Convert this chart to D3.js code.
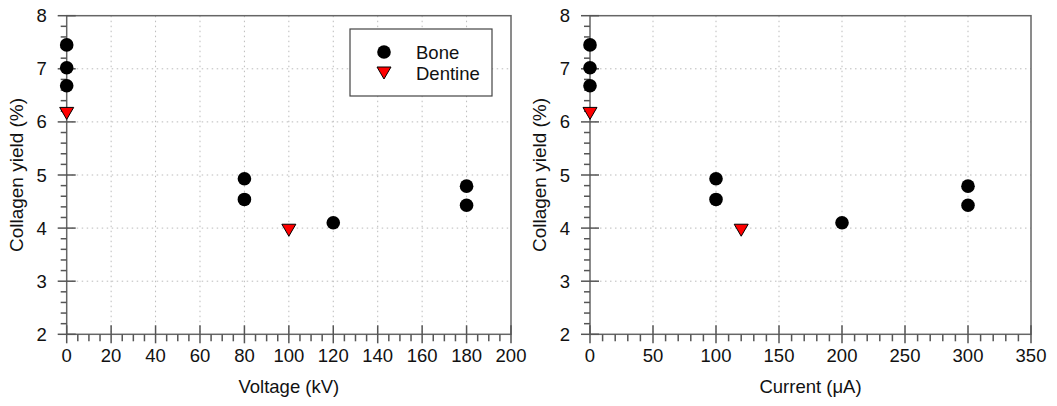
<!DOCTYPE html>
<html>
<head>
<meta charset="utf-8">
<script src="https://d3js.org/d3.v7.min.js"></script>
<style>
  body { margin: 0; padding: 0; background: #fff; }
  svg text { font-family: "Liberation Sans", Arial, sans-serif; fill: #111; }
</style>
</head>
<body>
<script>
// values
var yTicks = [2, 3, 4, 5, 6, 7, 8];
var voltTicks = [0, 20, 40, 60, 80, 100, 120, 140, 160, 180, 200];
var currTicks = [0, 50, 100, 150, 200, 250, 300, 350];

var boneVolt = [0, 0, 0, 80, 80, 120, 180, 180];
var boneCurr = [0, 0, 0, 100, 100, 200, 300, 300];
var boneYield = [7.45, 7.02, 6.68, 4.93, 4.54, 4.10, 4.79, 4.43];

var dentVolt = [0, 100];
var dentCurr = [0, 120];
var dentYield = [6.16, 3.96];

var W = 1057, H = 406;
var svg = d3.select("body").append("svg").attr("width", W).attr("height", H);

var triPath = "M-7,-6L7,-6L0,6Z";

function panel(left, right, xTicks, xMax, minorStep, boneX, dentX, xTitle, showLegend) {
    var top = 15.7, bottom = 334.3;
    var x = d3.scaleLinear().domain([0, xMax]).range([left, right]);
    var y = d3.scaleLinear().domain([2, 8]).range([bottom, top]);
    var g = svg.append("g");

    // grid
    g.selectAll(".gx").data(xTicks.slice(1, -1)).enter().append("line")
        .attr("x1", d => x(d)).attr("x2", d => x(d))
        .attr("y1", top).attr("y2", bottom)
        .attr("stroke", "#bbb").attr("stroke-dasharray", "1.5,3.5");
    g.selectAll(".gy").data(yTicks.slice(1, -1)).enter().append("line")
        .attr("y1", d => y(d)).attr("y2", d => y(d))
        .attr("x1", left).attr("x2", right)
        .attr("stroke", "#bbb").attr("stroke-dasharray", "1.5,3.5");

    // frame
    g.append("rect").attr("x", left).attr("y", top)
        .attr("width", right - left).attr("height", bottom - top)
        .attr("fill", "none").attr("stroke", "#666").attr("stroke-width", 1.5);

    var axisCol = "#555";
    // minor ticks
    var xMinor = d3.range(0, xMax + 0.001, minorStep).filter(v => xTicks.indexOf(v) < 0);
    g.selectAll(".mx").data(xMinor).enter().append("line")
        .attr("x1", d => x(d)).attr("x2", d => x(d))
        .attr("y1", bottom).attr("y2", bottom + 7)
        .attr("stroke", axisCol).attr("stroke-width", 1.5);
    var yMinor = d3.range(2, 8.001, 0.2).filter(v => Math.abs(v - Math.round(v)) > 0.01);
    g.selectAll(".my").data(yMinor).enter().append("line")
        .attr("y1", d => y(d)).attr("y2", d => y(d))
        .attr("x1", left - 6).attr("x2", left)
        .attr("stroke", axisCol).attr("stroke-width", 1.5);
    // major ticks crossing the axes
    g.selectAll(".tx").data(xTicks).enter().append("line")
        .attr("x1", d => x(d)).attr("x2", d => x(d))
        .attr("y1", bottom - 9).attr("y2", bottom + 9)
        .attr("stroke", axisCol).attr("stroke-width", 1.5);
    g.selectAll(".ty").data(yTicks).enter().append("line")
        .attr("y1", d => y(d)).attr("y2", d => y(d))
        .attr("x1", left - 9).attr("x2", left + 9)
        .attr("stroke", axisCol).attr("stroke-width", 1.5);

    // tick labels
    g.selectAll(".lx").data(xTicks).enter().append("text")
        .attr("x", d => x(d)).attr("y", bottom + 28)
        .attr("text-anchor", "middle").attr("font-size", 18.5)
        .text(d => d);
    g.selectAll(".ly").data(yTicks).enter().append("text")
        .attr("x", left - 20).attr("y", d => y(d) + 6.5)
        .attr("text-anchor", "end").attr("font-size", 18.5)
        .text(d => d);

    // titles
    g.append("text").attr("x", (left + right) / 2).attr("y", bottom + 59)
        .attr("text-anchor", "middle").attr("font-size", 18.5)
        .text(xTitle);
    g.append("text")
        .attr("transform", "translate(" + (left - 44) + "," + ((top + bottom) / 2) + ") rotate(-90)")
        .attr("text-anchor", "middle").attr("font-size", 19)
        .text("Collagen yield (%)");

    // points
    g.selectAll(".bone").data(boneYield).enter().append("circle")
        .attr("cx", (d, i) => x(boneX[i])).attr("cy", d => y(d))
        .attr("r", 6.8).attr("fill", "#000");
    g.selectAll(".dent").data(dentYield).enter().append("path")
        .attr("d", triPath)
        .attr("transform", (d, i) => "translate(" + x(dentX[i]) + "," + y(d) + ")")
        .attr("fill", "#f00").attr("stroke", "#000").attr("stroke-width", 1);

    if (showLegend) {
        var lg = g.append("g");
        lg.append("rect").attr("x", 350).attr("y", 29).attr("width", 142).attr("height", 67)
            .attr("fill", "#fff").attr("stroke", "#444").attr("stroke-width", 1.2);
        lg.append("circle").attr("cx", 384).attr("cy", 52).attr("r", 6.8).attr("fill", "#000");
        lg.append("path").attr("d", triPath).attr("transform", "translate(384,73)")
            .attr("fill", "#f00").attr("stroke", "#000");
        lg.append("text").attr("x", 416).attr("y", 58.5).attr("font-size", 18.5).text("Bone");
        lg.append("text").attr("x", 416).attr("y", 79.5).attr("font-size", 18.5).text("Dentine");
    }
}

panel(66.7, 511, voltTicks, 200, 5, boneVolt, dentVolt, "Voltage (kV)", true);
panel(590, 1031, currTicks, 350, 10, boneCurr, dentCurr, "Current (\u03bcA)", false);
</script>
</body>
</html>
